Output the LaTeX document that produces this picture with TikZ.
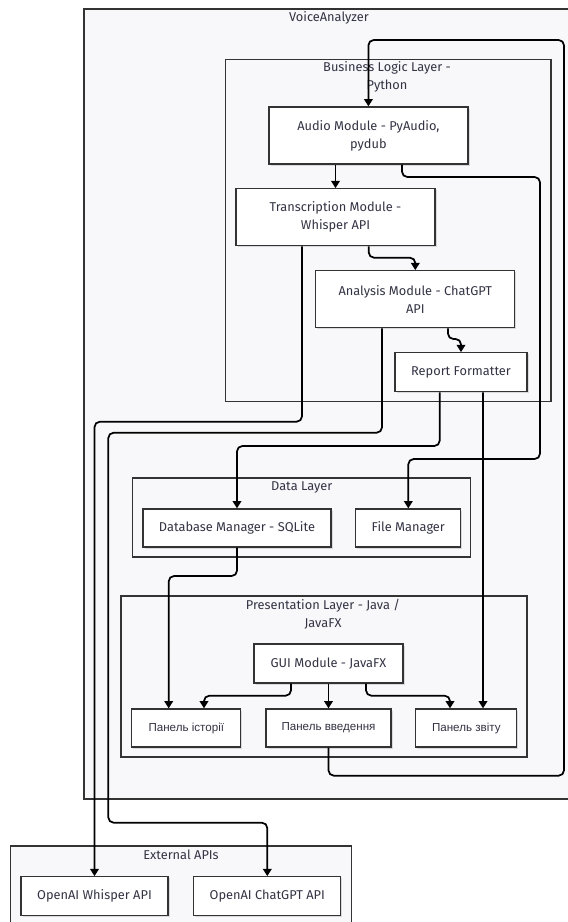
\documentclass[tikz,border=0pt]{standalone}
\usepackage{fontspec}
\setmainfont{Fira Sans}
\newfontfamily\cyrfont{Liberation Sans}
\usetikzlibrary{arrows.meta,calc,shadows}
\definecolor{clusterfill}{HTML}{F8F8FA}
\definecolor{linegray}{HTML}{333333}
\definecolor{textgray}{HTML}{333344}

\begin{document}
\begin{tikzpicture}[x=0.75pt,y=-0.75pt]
		\tikzset{cluster/.style = {draw=linegray, fill=clusterfill, line width=1pt}}
		\tikzset{title/.style = {text=textgray, align=center, font=\fontsize{9.6}{13.5}\selectfont}}
		\tikzset{module/.style = {shape=rectangle, draw=linegray, fill=white, line width=1pt, text=textgray, align=center, inner sep=0pt, font=\fontsize{9.6}{13.5}\selectfont, drop shadow={shadow xshift=1.2pt, shadow yshift=-1.2pt, opacity=0.12, fill=black}}}
		\tikzset{panel/.style = {module, font=\cyrfont\fontsize{8.7}{12}\selectfont}}
		\tikzset{link/.style = {draw=black, line width=1.3pt, rounded corners=4pt, -{Triangle[length=5.5pt,width=6.5pt]}}}

		\useasboundingbox (0,0) rectangle (568,922);

		\draw[cluster] (84,9) rectangle (572,799);
		\node[title] (tva) at (329,18) {VoiceAnalyzer};
		\draw[cluster] (225.7,59.3) rectangle (551,401.7);
		\node[title] (tbl) at (387,77) {Business Logic Layer -\\Python};
		\draw[cluster] (132.7,478) rectangle (470.7,557);
		\node[title] (tdl) at (301.7,487) {Data Layer};
		\draw[cluster] (121,596) rectangle (527,757);
		\node[title] (tpl) at (323,614) {Presentation Layer - Java /\\JavaFX};
		\draw[cluster] (10.7,846) rectangle (351.7,926);
		\node[title] (tea) at (181,855) {External APIs};

		\node[module, minimum width=149.25pt, minimum height=42.75pt] (audio) at (368.4,135.5) {Audio Module - PyAudio,\\pydub};
		\node[module, minimum width=149.25pt, minimum height=42.75pt] (trans) at (335.5,217.3) {Transcription Module -\\Whisper API};
		\node[module, minimum width=149.25pt, minimum height=42.75pt] (analysis) at (415.3,299.3) {Analysis Module - ChatGPT\\API};
		\node[module, minimum width=99pt, minimum height=29.25pt] (report) at (461,372.3) {Report Formatter};
		\node[module, minimum width=141pt, minimum height=28.5pt] (db) at (237,528) {Database Manager - SQLite};
		\node[module, minimum width=78.75pt, minimum height=28.5pt] (file) at (408.3,528) {File Manager};
		\node[module, minimum width=111.75pt, minimum height=29.25pt] (gui) at (328.5,663.5) {GUI Module - JavaFX};
		\node[panel, minimum width=81.75pt, minimum height=28.5pt] (hist) at (186.3,728) {Панель історії};
		\node[panel, minimum width=93.75pt, minimum height=28.5pt] (input) at (328.5,728) {Панель введення};
		\node[panel, minimum width=75.75pt, minimum height=28.5pt] (repp) at (466.3,728) {Панель звіту};
		\node[module, minimum width=110.25pt, minimum height=29.25pt] (whisper) at (94.5,896.3) {OpenAI Whisper API};
		\node[module, minimum width=110.25pt, minimum height=29.25pt] (chatgpt) at (267.3,896.3) {OpenAI ChatGPT API};

		\draw[link] (input.south) |- (564,775.7) -- (564,40) -| (audio.north);
		\draw[link] (audio.south -| trans.north) -- (trans.north);
		\draw[link] ($(audio.south)+(33.6,0)$) |- (540,177) -- (540,459) -| (file.north);
		\draw[link] ($(trans.south)+(33.2,0)$) |- (415.3,257.7) -- (analysis.north);
		\draw[link] ($(trans.south)+(-33.5,0)$) |- (94.5,421.7) -- (whisper.north);
		\draw[link] ($(analysis.south)+(32.7,0)$) |- (461,339) -- (report.north);
		\draw[link] ($(analysis.south)+(-33.3,0)$) |- (108.3,432.7) |- (267.3,822.7) -- (chatgpt.north);
		\draw[link] ($(report.south)+(-21.3,0)$) |- (237,446) -- (db.north);
		\draw[link] ($(report.south)+(22,0)$) -- ($(repp.north)+(16.7,0)$);
		\draw[link] (db.south) |- (168.7,576) -- ($(hist.north)+(-17.6,0)$);
		\draw[link] ($(gui.south)+(-37.5,0)$) |- (204,695.7) -- ($(hist.north)+(17.7,0)$);
		\draw[link] (gui.south) -- (input.north);
		\draw[link] ($(gui.south)+(37.5,0)$) |- (450,695.7) -- ($(repp.north)+(-16.3,0)$);

	\end{tikzpicture}
\end{document}
